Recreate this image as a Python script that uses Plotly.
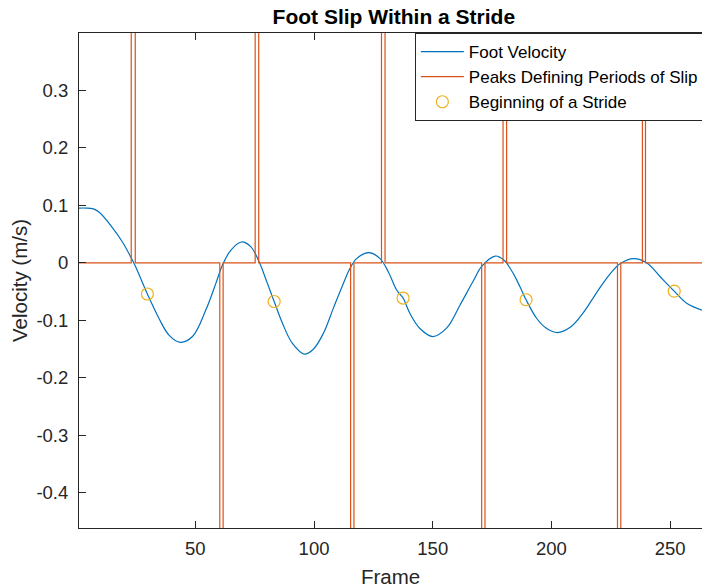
import plotly.graph_objects as go

# ---- data ----
vel_frames = [1, 4, 7, 9.4, 14.9, 19.3, 22.8, 24.9, 29.8, 34.7, 38.9, 43.6, 48.8, 54.4, 58.6,
              61.4, 64.9, 69.4, 73.4, 76.9, 80.4, 83.2, 86.7, 90.9, 95.9, 99.7, 103.9,
              108.1, 112.3, 115.1, 117.9, 123.1, 127.8, 131.3, 134.8, 137.5, 140.4, 144.6,
              150, 155.9, 161.5, 167.1, 170.6, 176.3, 178.4, 180.5, 184, 186.8, 189.3, 193.8, 198,
              202.5, 207.9, 213.5, 219.1, 224.7, 229, 234.6, 240.2, 245.8, 251.7, 257.1, 263.4]
vel_values = [0.0955, 0.0955, 0.094, 0.0885, 0.0625, 0.0365, 0.0104, -0.007, -0.054, -0.0966, -0.1255,
              -0.138, -0.128, -0.082, -0.036, -0.004, 0.022, 0.0365, 0.028, 0.0017, -0.036,
              -0.067, -0.105, -0.14, -0.1585, -0.150, -0.1226, -0.079, -0.036, -0.0097, 0.0076,
              0.018, 0.0076, -0.0156, -0.047, -0.061, -0.088, -0.114, -0.128, -0.113, -0.073,
              -0.031, -0.006, 0.012, 0.0095, 0.003, -0.019, -0.042, -0.064, -0.0966, -0.114, -0.121,
              -0.112, -0.086, -0.051, -0.019, -0.001, 0.0076, 0.0, -0.024, -0.049, -0.0705, -0.082]

# slip peaks: start frame, end frame, peak value (far outside the y-limits)
peak_start = [23.0, 60.3, 75.2, 115.4, 128.4, 170.6, 179.6, 227.8, 238.3]
peak_end   = [24.7, 61.7, 76.7, 116.8, 129.9, 172.0, 181.1, 229.2, 239.6]
peak_value = [1.0, -1.0, 1.0, -1.0, 1.0, -1.0, 1.0, -1.0, 1.0]
frame_first, frame_last = 1, 263.4

stride_frames = [29.8, 83.2, 137.5, 189.3, 251.7]
stride_values = [-0.054, -0.067, -0.061, -0.064, -0.049]

x_ticks = [50, 100, 150, 200, 250]
x_ticklabels = ["50", "100", "150", "200", "250"]
y_ticks = [-0.4, -0.3, -0.2, -0.1, 0, 0.1, 0.2, 0.3]
y_ticklabels = ["-0.4", "-0.3", "-0.2", "-0.1", "0", "0.1", "0.2", "0.3"]

# ---- build the slip signal polyline ----
slip_x = [frame_first]
slip_y = [0]
for s, e, v in zip(peak_start, peak_end, peak_value):
    slip_x += [s, s, e, e]
    slip_y += [0, v, v, 0]
slip_x.append(frame_last)
slip_y.append(0)

FONT = "Arial, 'Liberation Sans', Helvetica, sans-serif"
AX = "#262626"

fig = go.Figure()
fig.add_trace(go.Scatter(x=vel_frames, y=vel_values, mode="lines", name="Foot Velocity",
                         line=dict(color="#0072BD", width=1.2, shape="spline", smoothing=1.0)))
fig.add_trace(go.Scatter(x=slip_x, y=slip_y, mode="lines", name="Peaks Defining Periods of Slip",
                         line=dict(color="#D95319", width=1.2)))
fig.add_trace(go.Scatter(x=stride_frames, y=stride_values, mode="markers", name="Beginning of a Stride",
                         marker=dict(symbol="circle-open", size=12, color="#EDB120",
                                     line=dict(width=1.2, color="#EDB120"))))

W, H = 702, 588
ml = 79.3
mt = 32.7
mb = 588 - 528.3
fig.update_layout(
    width=W, height=H,
    margin=dict(l=ml, r=0, t=mt, b=mb, autoexpand=False),
    paper_bgcolor="white", plot_bgcolor="white",
    font=dict(family=FONT, color=AX),
    title=dict(text="<b>Foot Slip Within a Stride</b>",
               x=(394 - ml) / (W - ml), xref="paper", xanchor="center",
               y=1 - 17 / H, yref="container", yanchor="middle",
               font=dict(size=21, color="black", family=FONT)),
    showlegend=True,
    legend=dict(x=(415 - ml) / (W - ml), y=1, xanchor="left", yanchor="top",
                bgcolor="white", bordercolor=AX, borderwidth=1,
                font=dict(size=17, color="black", family=FONT), itemwidth=43,
                tracegroupgap=0),
)
fig.update_xaxes(range=[frame_first, frame_last], tickvals=x_ticks, ticktext=x_ticklabels,
                 ticks="inside", ticklen=7, tickcolor=AX, tickwidth=1,
                 showline=True, linecolor=AX, linewidth=1, mirror="ticks",
                 showgrid=False, zeroline=False, tickfont=dict(size=18.5, color=AX),
                 ticklabelstandoff=4,
                 title=dict(text="Frame", font=dict(size=20.5, color=AX), standoff=11))
fig.update_yaxes(range=[-0.461, 0.4], tickvals=y_ticks, ticktext=y_ticklabels,
                 ticks="inside", ticklen=7, tickcolor=AX, tickwidth=1,
                 showline=True, linecolor=AX, linewidth=1, mirror=False,
                 showgrid=False, zeroline=False, tickfont=dict(size=18.5, color=AX),
                 ticklabelstandoff=6,
                 title=dict(text="Velocity (m/s)", font=dict(size=20.5, color=AX), standoff=3))

# remove the browser's default 8px page margin so the figure fills the window exactly
fig.write_html("out.html", config={"displayModeBar": False},
               post_script="document.body.style.margin='0';document.body.style.overflow='hidden';")
